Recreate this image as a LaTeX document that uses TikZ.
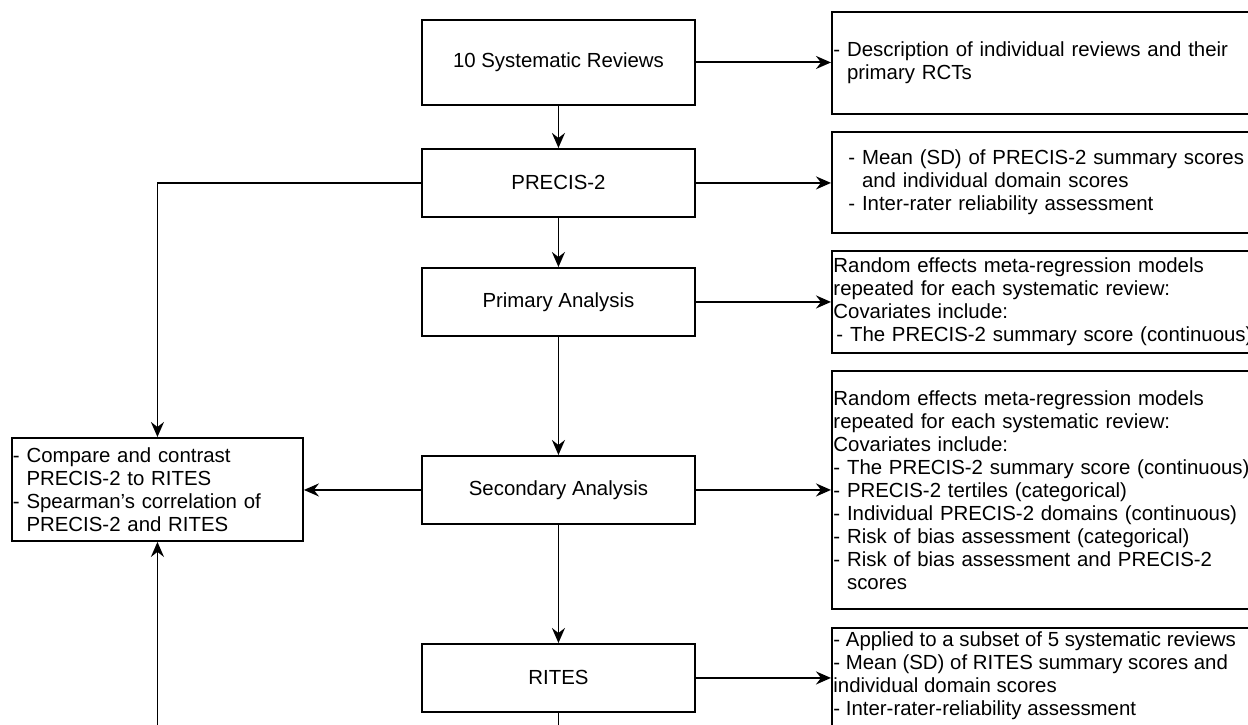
\documentclass[tikz,border=0pt]{standalone}
\usepackage{fontspec}
\setmainfont{Liberation Sans}
\usetikzlibrary{arrows.meta,calc}
\newcommand\diafont{\fontsize{20.4}{23}\selectfont}
\newcommand\ind{\phantom{- }}
\begin{document}
\begin{tikzpicture}[x=1pt,y=-1pt,
  line width=1.9pt,
  mainbox/.style={draw, line width=1.9pt, anchor=north west, minimum width=273pt,
    minimum height=68pt, inner sep=0pt, font=\diafont},
  notebox/.style={draw, line width=1.9pt, anchor=north west, minimum width=460pt,
    inner xsep=1.5pt, inner ysep=0pt, text width=457pt, align=left, font=\diafont},
  arr/.style={-{Stealth[length=15pt,width=13pt,inset=5pt]}, line width=1.9pt}
]
\useasboundingbox (0,0) rectangle (1248,725);
\clip (0,0) rectangle (1248,725);

% main column
\node[mainbox, minimum height=85pt] (sr) at (421,19) {10 Systematic Reviews};
\node[mainbox] (precis) at (421,148) {PRECIS-2};
\node[mainbox] (prim) at (421,267) {Primary Analysis};
\node[mainbox] (sec) at (421,455) {Secondary Analysis};
\node[mainbox] (rites) at (421,643) {RITES};

% notes on the right
\node[notebox, minimum height=102pt] (d1) at (831,11)
  {- Description of individual reviews and their\\ \ind primary RCTs};
\node[notebox, minimum height=101pt] (d2) at (831,131)
  {\hspace*{15pt}- Mean (SD) of PRECIS-2 summary scores\\
   \hspace*{15pt}\ind and individual domain scores\\
   \hspace*{15pt}- Inter-rater reliability assessment};
\node[notebox, minimum height=102pt] (d3) at (831,250)
  {Random effects meta-regression models\\
   repeated for each systematic review:\\
   Covariates include:\\
   \hspace*{3pt}- The PRECIS-2 summary score (continuous)};
\node[notebox, minimum height=238pt] (d4) at (831,370)
  {Random effects meta-regression models\\
   repeated for each systematic review:\\
   Covariates include:\\
   - The PRECIS-2 summary score (continuous)\\
   - PRECIS-2 tertiles (categorical)\\
   - Individual PRECIS-2 domains (continuous)\\
   - Risk of bias assessment (categorical)\\
   - Risk of bias assessment and PRECIS-2\\
   \ind scores};
\node[notebox, minimum height=160pt] (d5) at (831,627) {};
\node[anchor=north west, inner xsep=1.5pt, inner ysep=0pt, align=left, font=\diafont]
  (d5text) at ($(d5.north west)+(0,4)$)
  {- Applied to a subset of 5 systematic reviews\\
   - Mean (SD) of RITES summary scores and\\
   individual domain scores\\
   - Inter-rater-reliability assessment};

% comparison box on the left
\node[draw, line width=1.9pt, anchor=north west, minimum width=291pt, minimum height=103pt,
  inner xsep=1pt, inner ysep=0pt, text width=289pt, align=left, font=\diafont] (cmp) at (11,437)
  {- Compare and contrast\\ \ind PRECIS-2 to RITES\\
   - Spearman's correlation of\\ \ind PRECIS-2 and RITES};

% connectors
\draw[arr] (sr) -- (precis);
\draw[arr] (precis) -- (prim);
\draw[arr] (prim) -- (sec);
\draw[arr] (sec) -- (rites);
\draw[arr] (sr.east) -- (sr.east -| d1.west);
\draw[arr] (precis.east) -- (precis.east -| d2.west);
\draw[arr] (prim.east) -- (prim.east -| d3.west);
\draw[arr] (sec.east) -- (sec.east -| d4.west);
\draw[arr] (rites.east) -- (rites.east -| d5.west);
\draw[arr] (precis.west) -| (cmp.north);
\draw[arr] (sec.west) -- (sec.west -| cmp.east);
\draw[arr] (rites.south) -- ++(0,40) -| (cmp.south);
\end{tikzpicture}
\end{document}
